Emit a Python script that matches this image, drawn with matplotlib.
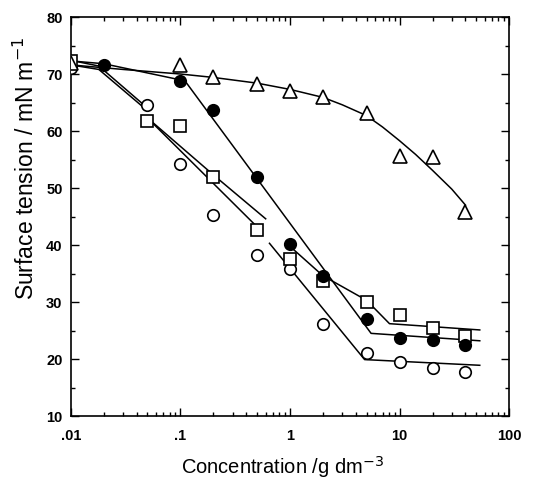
import numpy as np
import matplotlib
matplotlib.use("Agg")
import matplotlib.pyplot as plt
from matplotlib.ticker import FixedLocator, NullFormatter, LogLocator, MultipleLocator

# ---- data ----
tri_x = [0.01, 0.1, 0.2, 0.5, 1, 2, 5, 10, 20, 40]
tri_y = [72.0, 71.6, 69.5, 68.2, 67.0, 65.9, 63.1, 55.6, 55.5, 45.8]

fil_x = [0.02, 0.1, 0.2, 0.5, 1, 2, 5, 10, 20, 40]
fil_y = [71.6, 68.8, 63.6, 52.0, 40.2, 34.5, 27.1, 23.7, 23.3, 22.5]

sq_x = [0.01, 0.05, 0.1, 0.2, 0.5, 1, 2, 5, 10, 20, 40]
sq_y = [72.2, 61.8, 60.9, 51.9, 42.6, 37.6, 33.6, 30.0, 27.7, 25.5, 24.0]

op_x = [0.01, 0.05, 0.1, 0.2, 0.5, 1, 2, 5, 10, 20, 40]
op_y = [71.0, 64.5, 54.2, 45.2, 38.2, 35.8, 26.2, 21.0, 19.4, 18.4, 17.7]

# fitted lines as drawn in the figure (NaN = break in the line)
tri_fit_x = [0.01, 0.03, 0.1, 0.2, 0.5, 1, 2, 3, 5, 7, 10, 14, 20, 30, 40]
tri_fit_y = [71.6, 70.8, 70.0, 69.4, 68.4, 67.3, 65.9, 64.6, 62.7, 60.7, 58.3, 55.9, 53.1, 49.8, 47.0]

fil_fit_x = [0.01, 0.02, 0.11, 5.5, 54]
fil_fit_y = [72.3, 71.8, 68.8, 24.5, 23.2]

sq_fit_x = [0.01, 0.018, 0.045, np.nan, 0.05, 0.2, 0.6, np.nan, 1.05, 2.0, 5.0, 8.1, 54]
sq_fit_y = [72.4, 71.4, 64.8, np.nan, 62.3, 52.3, 44.6, np.nan, 39.4, 34.6, 30.3, 26.2, 25.1]

op_fit_x = [0.01, 0.018, 0.047, np.nan, 0.055, 0.5, np.nan, 0.65, 4.8, 54]
op_fit_y = [71.6, 70.8, 64.0, np.nan, 61.5, 43.2, np.nan, 40.3, 19.9, 18.9]

xticks = [0.01, 0.1, 1, 10, 100]
xticklabels = [".01", ".1", "1", "10", "100"]
yticks = [10, 20, 30, 40, 50, 60, 70, 80]

# ---- plot ----
plt.rcParams['font.family'] = ['Liberation Sans', 'DejaVu Sans']
fig = plt.figure(figsize=(5.41, 4.86), dpi=100)
ax = fig.add_axes([0.131, 0.144, 0.810, 0.821])

lw = 1.1
ax.plot(tri_fit_x, tri_fit_y, color='black', lw=lw, zorder=1)
ax.plot(fil_fit_x, fil_fit_y, color='black', lw=lw, zorder=1)
ax.plot(sq_fit_x, sq_fit_y, color='black', lw=lw, zorder=1)
ax.plot(op_fit_x, op_fit_y, color='black', lw=lw, zorder=1)

mk = dict(linestyle='none', markeredgecolor='black', markeredgewidth=1.2, zorder=3)
ax.plot(op_x, op_y, marker='o', markersize=8.3, markerfacecolor='white', **mk)
ax.plot(sq_x, sq_y, marker='s', markersize=8.5, markerfacecolor='white', **mk)
ax.plot(fil_x, fil_y, marker='o', markersize=8.3, markerfacecolor='black', **mk)
ax.plot(tri_x, tri_y, marker='^', markersize=9.5, markerfacecolor='white', **mk)

ax.set_xscale('log')
ax.set_xlim(0.01, 100)
ax.set_ylim(10, 80)
ax.xaxis.set_major_locator(FixedLocator(xticks))
ax.set_xticklabels(xticklabels)
ax.xaxis.set_minor_locator(LogLocator(base=10, subs=np.arange(2, 10)))
ax.xaxis.set_minor_formatter(NullFormatter())
ax.yaxis.set_major_locator(FixedLocator(yticks))
ax.yaxis.set_minor_locator(MultipleLocator(5))

ax.tick_params(which='both', direction='in', top=True, right=True, width=1.0)
ax.tick_params(which='major', length=5.5)
ax.tick_params(which='minor', length=3)
ax.tick_params(axis='x', which='major', pad=9)
ax.tick_params(axis='y', which='major', pad=6)
for lab in ax.get_xticklabels() + ax.get_yticklabels():
    lab.set_fontweight('bold')
    lab.set_fontsize(10.5)
for sp in ax.spines.values():
    sp.set_linewidth(1.2)

ax.set_xlabel('Concentration /g dm$^{-3}$', fontsize=14.5, labelpad=8)
ax.set_ylabel('Surface tension / mN m$^{-1}$', fontsize=16.5)
ax.yaxis.set_label_coords(-0.072, 0.62)
ax.xaxis.set_label_coords(0.484, -0.095)

fig.savefig('out.png', dpi=100)
